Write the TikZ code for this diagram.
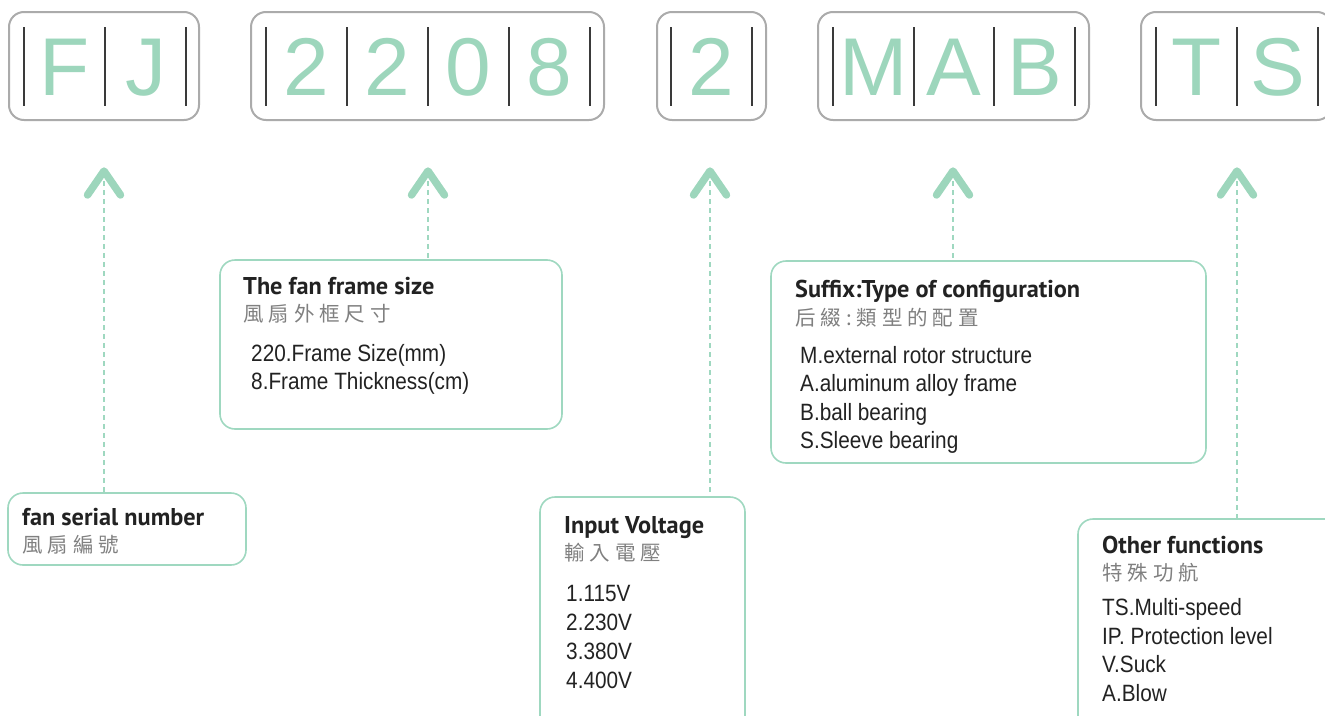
\documentclass[tikz,border=0pt]{standalone}
\usepackage{fontspec}
\setmainfont{Liberation Sans}
\newfontfamily\titlefont{PT Sans}
\newfontfamily\cjkfont[LetterSpace=24]{Noto Sans CJK TC}
\newfontfamily\condfont[FakeStretch=0.88]{Liberation Sans}
\definecolor{mint}{HTML}{9DD6BC}
\definecolor{mintline}{HTML}{9FD8C0}
\definecolor{boxgray}{HTML}{ABABAB}
\definecolor{bargray}{HTML}{3A3A3A}
\definecolor{txtdark}{HTML}{222222}
\definecolor{cjkgray}{HTML}{808080}
\begin{document}
\begin{tikzpicture}[x=1pt,y=-1pt,
  codebox/.style={draw=boxgray,line width=2pt,rounded corners=15pt,inner sep=0pt,minimum height=108pt},
  sepbar/.style={draw=bargray,line width=1.3pt},
  letter/.style={anchor=base,inner sep=0pt,text=mint,font=\fontsize{82}{82}\selectfont},
  chev/.style={draw=mint,line width=7.5pt,line cap=round,line join=round},
  conn/.style={draw=mintline,line width=2pt,dash pattern=on 5pt off 4pt},
  infobox/.style={draw=mintline,line width=1.6pt,rounded corners=15pt,fill=white,inner sep=0pt},
  ttl/.style={anchor=base west,inner sep=0pt,text=txtdark,font=\titlefont\bfseries\fontsize{24.3}{28}\selectfont},
  cjk/.style={anchor=base west,inner sep=0pt,text=cjkgray,font=\cjkfont\fontsize{20.5}{24}\selectfont},
  body/.style={anchor=base west,inner sep=0pt,text=txtdark,font=\condfont\fontsize{23.6}{28.5}\selectfont}
]
\useasboundingbox (0,0) rectangle (1325,715);
\clip (0,0) rectangle (1325,715);

% ---- code boxes ----
\node[codebox,minimum width=190pt] (cb1) at (104,66) {};
\node[codebox,minimum width=353pt] (cb2) at (427.5,66) {};
\node[codebox,minimum width=109pt] (cb3) at (711.5,66) {};
\node[codebox,minimum width=271pt] (cb4) at (953.5,66) {};
\node[codebox,minimum width=191pt] (cb5) at (1236.5,66) {};

\foreach \bx in {24,105,186, 266,347,428,509,590, 671,752, 833,914,994,1075, 1156,1237,1318}
  \draw[sepbar] (\bx,27) -- (\bx,106);

\node[letter] (lF) at (64.5,95) {F};
\node[letter] (lJ) at (145.5,95) {J};
\node[letter] (l2a) at (306.5,95) {2};
\node[letter] (l2b) at (387.5,95) {2};
\node[letter] (l0) at (468.5,95) {0};
\node[letter] (l8) at (549.5,95) {8};
\node[letter] (l2c) at (711.5,95) {2};
\node[letter] (lM) at (873.5,95) {M};
\node[letter] (lA) at (954,95) {A};
\node[letter] (lB) at (1034.5,95) {B};
\node[letter] (lT) at (1196.5,95) {T};
\node[letter] (lS) at (1277.5,95) {S};

% ---- info boxes ----
\node[infobox,minimum width=238pt,minimum height=72pt] (sn) at (127,529) {};
\node[infobox,minimum width=342pt,minimum height=169pt] (fs) at (391,344.5) {};
\node[infobox,minimum width=205pt,minimum height=250pt] (iv) at (642.5,622) {};
\node[infobox,minimum width=435pt,minimum height=202pt] (sf) at (988.5,362) {};
\node[infobox,minimum width=262pt,minimum height=230pt] (of) at (1209,634) {};

% ---- arrows ----
\coordinate (a1) at (104,171);
\coordinate (a2) at (428,171);
\coordinate (a3) at (710,171);
\coordinate (a4) at (953,171);
\coordinate (a5) at (1237,171);
\draw[conn] (a1) ++(0,10) -- (a1 |- sn.north);
\draw[conn] (a2) ++(0,10) -- (a2 |- fs.north);
\draw[conn] (a3) ++(0,10) -- (a3 |- iv.north);
\draw[conn] (a4) ++(0,10) -- (a4 |- sf.north);
\draw[conn] (a5) ++(0,10) -- (a5 |- of.north);
\foreach \a in {a1,a2,a3,a4,a5}
  \draw[chev] (\a) ++(-16.5,24) -- (\a) -- ++(16.5,24);

% ---- texts ----
\node[ttl] (t1) at (22,525) {fan serial number};
\node[cjk] (c1) at (22,552) {風扇編號};

\node[ttl] (t2) at (243,294) {The fan frame size};
\node[cjk] (c2) at (243,321) {風扇外框尺寸};
\node[body] (b2a) at (251,361) {220.Frame Size(mm)};
\node[body] (b2b) at (251,389) {8.Frame Thickness(cm)};

\node[ttl] (t3) at (564,533) {Input Voltage};
\node[cjk] (c3) at (564,560) {輸入電壓};
\node[body] (b3a) at (566,601) {1.115V};
\node[body] (b3b) at (566,630) {2.230V};
\node[body] (b3c) at (566,659) {3.380V};
\node[body] (b3d) at (566,688) {4.400V};

\node[ttl] (t4) at (795,297) {Suffix:Type of configuration};
\node[cjk] (c4) at (795,325) {后綴:類型的配置};
\node[body] (b4a) at (800,363) {M.external rotor structure};
\node[body] (b4b) at (800,391.5) {A.aluminum alloy frame};
\node[body] (b4c) at (800,420) {B.ball bearing};
\node[body] (b4d) at (800,448.5) {S.Sleeve bearing};

\node[ttl] (t5) at (1102,553) {Other functions};
\node[cjk] (c5) at (1102,580) {特殊功航};
\node[body] (b5a) at (1102,615) {TS.Multi-speed};
\node[body] (b5b) at (1102,644) {IP. Protection level};
\node[body] (b5c) at (1102,672) {V.Suck};
\node[body] (b5d) at (1102,701) {A.Blow};
\end{tikzpicture}
\end{document}
